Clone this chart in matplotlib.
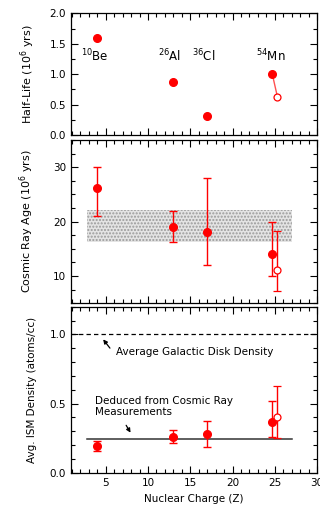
import numpy as np
import matplotlib
matplotlib.use('Agg')
import matplotlib.pyplot as plt
from matplotlib.ticker import MultipleLocator

# isotopes / nuclear charge
isotopes = ['$^{10}$Be', '$^{26}$Al', '$^{36}$Cl', '$^{54}$Mn']
label_z = [3.7, 12.6, 16.6, 24.5]
z_filled = [4, 13, 17, 24.7]
z_open = [25.3]

# half-life (10^6 yrs)
half_life = [1.6, 0.87, 0.31, 1.0]
half_life_open = [0.63]

# cosmic ray age (10^6 yrs): value, lower, upper
age = [26.1, 19.0, 18.0, 14.1]
age_lo = [21.1, 16.2, 12.0, 10.0]
age_hi = [30.0, 21.9, 28.0, 20.0]
age_open = [11.1]
age_open_lo = [7.3]
age_open_hi = [18.3]
age_band = (16.3, 22.2)
band_z = (2.8, 27.0)

# ISM density (atoms/cc)
dens = [0.19, 0.26, 0.283, 0.365]
dens_lo = [0.16, 0.215, 0.185, 0.26]
dens_hi = [0.226, 0.307, 0.372, 0.518]
dens_open = [0.40]
dens_open_lo = [0.25]
dens_open_hi = [0.628]
disk_density = 1.0
cr_density = 0.244

RED = '#ff0000'
FS = 7.5
plt.rcParams['font.family'] = 'DejaVu Sans'
plt.rcParams['font.size'] = FS

fig = plt.figure(figsize=(3.2, 5.13), dpi=100)
L, R = 0.222, 0.991
ax1 = fig.add_axes([L, 0.737, R-L, 0.974-0.737])
ax2 = fig.add_axes([L, 0.409, R-L, 0.727-0.409])
ax3 = fig.add_axes([L, 0.0786, R-L, 0.402-0.0786])

for ax in (ax1, ax2, ax3):
    ax.set_xlim(0.9, 30)
    ax.xaxis.set_major_locator(MultipleLocator(5))
    ax.xaxis.set_minor_locator(MultipleLocator(1))
    ax.tick_params(which='both', direction='in', top=True, right=True, width=0.8, labelsize=FS)
    ax.tick_params(which='major', length=5)
    ax.tick_params(which='minor', length=3)
    for s in ax.spines.values():
        s.set_linewidth(0.9)
ax1.tick_params(labelbottom=False)
ax2.tick_params(labelbottom=False)

# --- half-life panel
ax1.set_ylim(0, 2.0)
ax1.yaxis.set_major_locator(MultipleLocator(0.5))
ax1.yaxis.set_minor_locator(MultipleLocator(0.25))
ax1.yaxis.set_major_formatter(matplotlib.ticker.FormatStrFormatter('%.1f'))
ax1.plot(z_filled, half_life, 'o', color=RED, ms=5.5, ls='none', zorder=3)
ax1.plot([z_filled[-1], z_open[0]], [half_life[-1], half_life_open[0]], color='#ff5050', lw=1, zorder=2)
ax1.plot(z_open, half_life_open, 'o', mfc='white', mec=RED, ms=5, mew=0.9, zorder=3)
for lab, zz in zip(isotopes, label_z):
    ax1.text(zz, 1.29, lab, ha='center', va='center', fontsize=FS + 1)
ax1.set_ylabel('Half-Life (10$^6$ yrs)', fontsize=FS + 0.5, labelpad=9)

# --- cosmic ray age panel
ax2.set_ylim(5, 35)
ax2.yaxis.set_major_locator(MultipleLocator(10))
ax2.yaxis.set_minor_locator(MultipleLocator(2.5))
ax2.fill_between(band_z, age_band[0], age_band[1], facecolor='#e4e4e4', edgecolor='#9a9a9a',
                 hatch='.....', linewidth=0, zorder=1)
yerr = [np.subtract(age, age_lo), np.subtract(age_hi, age)]
ax2.errorbar(z_filled, age, yerr=yerr, fmt='o', color=RED, ms=5.5, capsize=3, elinewidth=1, capthick=1, zorder=3)
yerr_o = [np.subtract(age_open, age_open_lo), np.subtract(age_open_hi, age_open)]
ax2.errorbar(z_open, age_open, yerr=yerr_o, fmt='o', color=RED, mfc='white', ms=5, mew=0.9,
             capsize=3, elinewidth=1, capthick=1, zorder=3)
ax2.set_ylabel('Cosmic Ray Age (10$^6$ yrs)', fontsize=FS + 0.5, labelpad=12)

# --- ISM density panel
ax3.set_ylim(0, 1.2)
ax3.yaxis.set_major_locator(MultipleLocator(0.5))
ax3.yaxis.set_minor_locator(MultipleLocator(0.1))
ax3.yaxis.set_major_formatter(matplotlib.ticker.FormatStrFormatter('%.1f'))
ax3.axhline(disk_density, color='black', lw=0.9, ls=(0, (3.5, 2.5)))
ax3.plot(band_z, [cr_density, cr_density], color='#333333', lw=1.1)
yerr = [np.subtract(dens, dens_lo), np.subtract(dens_hi, dens)]
ax3.errorbar(z_filled, dens, yerr=yerr, fmt='o', color=RED, ms=5.5, capsize=3, elinewidth=1, capthick=1, zorder=3)
yerr_o = [np.subtract(dens_open, dens_open_lo), np.subtract(dens_open_hi, dens_open)]
ax3.errorbar(z_open, dens_open, yerr=yerr_o, fmt='o', color=RED, mfc='white', ms=5, mew=0.9,
             capsize=3, elinewidth=1, capthick=1, zorder=3)
ax3.annotate('', xy=(4.5, 0.98), xytext=(5.7, 0.885),
             arrowprops=dict(arrowstyle='-|>', color='black', lw=0.9, mutation_scale=6))
ax3.text(6.2, 0.872, 'Average Galactic Disk Density', ha='left', va='center', fontsize=FS)
ax3.annotate('', xy=(8.1, 0.272), xytext=(7.25, 0.36),
             arrowprops=dict(arrowstyle='-|>', color='black', lw=0.9, mutation_scale=6))
ax3.text(3.7, 0.476, 'Deduced from Cosmic Ray\nMeasurements', ha='left', va='center', fontsize=FS,
         linespacing=1.1)
ax3.set_ylabel('Avg. ISM Density (atoms/cc)', fontsize=FS, labelpad=9)
ax3.set_xlabel('Nuclear Charge (Z)', fontsize=FS, labelpad=5)

fig.savefig('out.png', dpi=100)
